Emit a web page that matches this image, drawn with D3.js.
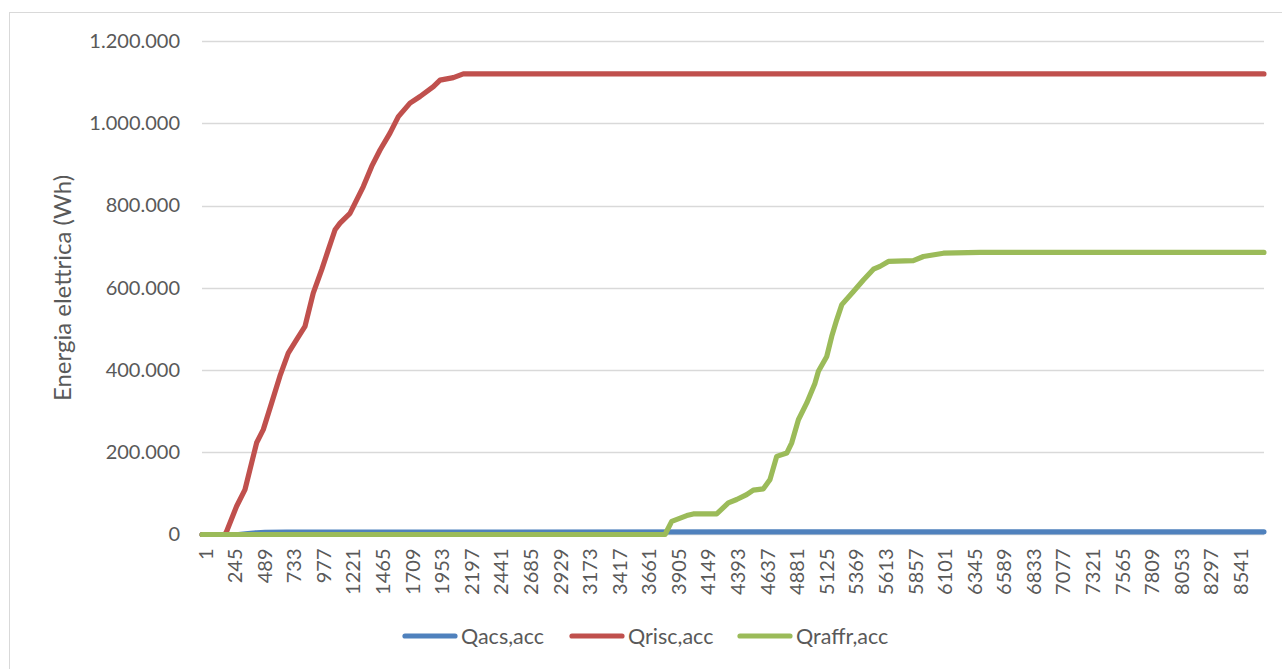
<!DOCTYPE html>
<html><head><meta charset="utf-8">
<script src="https://cdn.jsdelivr.net/npm/d3@7"></script>
<style>
html,body{margin:0;padding:0;background:#fff;}
svg{display:block;}
text{font-family:Lato, "Open Sans", sans-serif;fill:#595959;}
</style></head>
<body>
<svg id="chart" width="1282" height="669"></svg>
<script>
// ---- data ----
const seriesNames = ["Qacs,acc", "Qrisc,acc", "Qraffr,acc"];
const seriesColors = ["#4F81BD", "#C0504D", "#9BBB59"];

const acsHours  = [1, 300, 380, 450, 520, 700, 1500, 8760];
const acsValues = [0, 0, 2500, 4200, 5200, 5600, 6000, 6500];

const riscHours  = [1, 190, 204, 286, 355, 396, 451, 506, 575, 643, 712, 781, 850, 918, 988, 1042, 1098, 1139, 1221, 1331, 1400, 1469, 1551, 1620, 1716, 1799, 1909, 1964, 2074, 2156, 8760];
const riscValues = [0, 0, 8000, 68800, 109000, 158000, 223000, 255000, 320000, 385000, 441000, 474000, 506000, 587000, 644000, 692000, 741000, 757000, 781000, 846000, 895000, 935000, 976000, 1016000, 1049000, 1065000, 1089000, 1105000, 1111000, 1120000, 1120000];

const raffrHours  = [1, 3820, 3875, 3999, 4053, 4246, 4342, 4411, 4493, 4548, 4631, 4686, 4741, 4824, 4865, 4920, 4989, 5057, 5085, 5154, 5195, 5236, 5278, 5374, 5456, 5539, 5593, 5662, 5868, 5951, 6116, 6418, 8760];
const raffrValues = [0, 0, 32000, 46000, 50000, 50000, 77000, 85000, 97000, 108000, 111000, 134000, 190000, 198000, 223000, 279000, 320000, 368000, 397000, 433000, 482000, 522000, 559000, 591000, 619000, 645000, 652000, 664000, 666000, 676000, 684000, 686000, 686000];

const xTickLabels = [1, 245, 489, 733, 977, 1221, 1465, 1709, 1953, 2197, 2441, 2685, 2929, 3173, 3417, 3661, 3905, 4149, 4393, 4637, 4881, 5125, 5369, 5613, 5857, 6101, 6345, 6589, 6833, 7077, 7321, 7565, 7809, 8053, 8297, 8541];
const yTicks = [0, 200000, 400000, 600000, 800000, 1000000, 1200000];
const yTitle = "Energia elettrica (Wh)";
const nHours = 8760;

// ---- drawing ----
const svg = d3.select("#chart");
const plotL = 202, plotR = 1264, plotT = 41, plotB = 534.5;

// outer chart border
svg.append("rect").attr("x", 9.5).attr("y", 12.5).attr("width", 1400).attr("height", 700)
  .attr("fill", "#fff").attr("stroke", "#D9D9D9").attr("stroke-width", 1);

const x = d3.scaleLinear().domain([0.5, nHours + 0.5]).range([plotL, plotR]);
const y = d3.scaleLinear().domain([0, 1200000]).range([plotB, plotT]);

const it = d3.formatLocale({decimal: ",", thousands: ".", grouping: [3], currency: ["", "€"]});
const fmt = it.format(",.0f");

// gridlines
svg.append("g").selectAll("line").data(yTicks.filter(d => d > 0)).join("line")
  .attr("x1", plotL).attr("x2", plotR)
  .attr("y1", d => Math.round(y(d)) + 0.5).attr("y2", d => Math.round(y(d)) + 0.5)
  .attr("stroke", "#D9D9D9").attr("stroke-width", 1.3);

// y axis labels
const yAxis = d3.axisLeft(y).tickValues(yTicks).tickFormat(fmt).tickSize(0).tickPadding(0);
const gy = svg.append("g").attr("transform", `translate(${plotL - 22},0)`).call(yAxis);
gy.select(".domain").remove();
gy.selectAll("text").attr("font-size", 20).attr("fill", "#595959")
  .style("font-family", "Lato, 'Open Sans', sans-serif");

// x axis line
svg.append("line").attr("x1", plotL).attr("x2", plotR).attr("y1", plotB).attr("y2", plotB)
  .attr("stroke", "#D9D9D9").attr("stroke-width", 1.3);

// x axis labels
const xAxis = d3.axisBottom(x).tickValues(xTickLabels).tickFormat(d => String(d)).tickSize(0).tickPadding(0);
const gx = svg.append("g").attr("transform", `translate(0,${plotB})`).call(xAxis);
gx.select(".domain").remove();
gx.selectAll("text")
  .attr("font-size", 20).attr("fill", "#595959")
  .style("font-family", "Lato, 'Open Sans', sans-serif")
  .attr("text-anchor", "end")
  .attr("dy", "0.35em")
  .attr("transform", "translate(3,14) rotate(-90)")
  .attr("x", 0).attr("y", 0);

// y title
svg.append("text")
  .attr("transform", `translate(71,${288}) rotate(-90)`)
  .attr("text-anchor", "middle").attr("font-size", 24).text(yTitle);

// lines
const line = d3.line().x(d => x(d[0])).y(d => y(d[1]));
const series = [
  d3.zip(acsHours, acsValues),
  d3.zip(riscHours, riscValues),
  d3.zip(raffrHours, raffrValues)
];
svg.append("g").selectAll("path").data(series).join("path")
  .attr("d", line).attr("fill", "none")
  .attr("stroke", (d, i) => seriesColors[i])
  .attr("stroke-width", 5.2)
  .attr("stroke-linejoin", "round").attr("stroke-linecap", "round");

// legend
const legendX = [405, 572, 740];
const lg = svg.append("g").selectAll("g").data(seriesNames).join("g")
  .attr("transform", (d, i) => `translate(${legendX[i]},636)`);
lg.append("line").attr("x1", 0).attr("x2", 50).attr("y1", 0).attr("y2", 0)
  .attr("stroke", (d, i) => seriesColors[i]).attr("stroke-width", 5.2).attr("stroke-linecap", "round");
lg.append("text").attr("x", 56).attr("y", 0).attr("dy", "0.35em").attr("font-size", 21.5).text(d => d);
</script>
</body></html>
